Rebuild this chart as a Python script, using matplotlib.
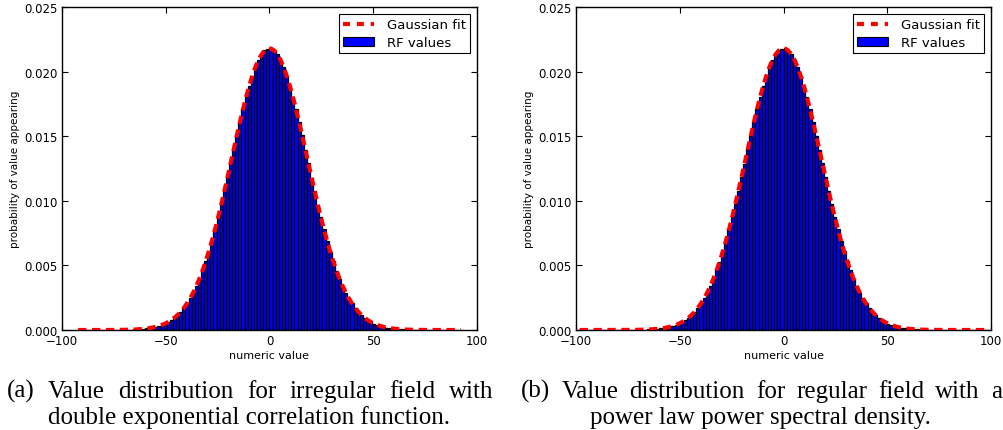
import numpy as np
import matplotlib
matplotlib.use("Agg")
import matplotlib.pyplot as plt
from matplotlib.patches import Patch
from matplotlib.lines import Line2D

# ---------------- data ----------------
# panel (a): bins of width 1.5 from -93 to 93
bins_a = (-93.0, 93.0, 1.5)
heights_a = [
    0.0, 0.0, 0.0, 0.0, 0.0, 0.0, 0.0, 0.0, 0.0, 0.0, 0.0, 0.0, 0.0, 0.0, 0.0,
    0.00001, 0.00002, 0.00003, 0.00004, 0.00005, 0.00007, 0.00009, 0.00012, 0.00015,
    0.00019, 0.00025, 0.00032, 0.00040, 0.00050, 0.00063, 0.00078, 0.00096, 0.00117,
    0.00142, 0.00172, 0.00206, 0.00245, 0.00290, 0.00341, 0.00398, 0.00461, 0.00531,
    0.00608, 0.00690, 0.00779, 0.00873, 0.00972, 0.01075, 0.01181, 0.01289, 0.01397,
    0.01505, 0.01610, 0.01711, 0.01805, 0.01891, 0.01969, 0.02037, 0.02092, 0.02135,
    0.02164, 0.02175,
    0.02180, 0.02162, 0.02136, 0.02090, 0.02038, 0.01967, 0.01892, 0.01803, 0.01712,
    0.01609, 0.01506, 0.01396, 0.01290, 0.01180, 0.01076, 0.00971, 0.00874, 0.00778,
    0.00691, 0.00607, 0.00532, 0.00460, 0.00398, 0.00341, 0.00290, 0.00245, 0.00206,
    0.00172, 0.00142, 0.00117, 0.00096, 0.00078, 0.00063, 0.00050, 0.00040, 0.00032,
    0.00025, 0.00019, 0.00015, 0.00012, 0.00009, 0.00007, 0.00005, 0.00004, 0.00003,
    0.00002, 0.00001,
    0.0, 0.0, 0.0, 0.0, 0.0, 0.0, 0.0, 0.0, 0.0, 0.0, 0.0, 0.0, 0.0, 0.0, 0.0,
]
fit_a = (0.0, 18.3)   # Gaussian fit: mean, sigma

# panel (b): bins of width 1.5 from -99 to 99
bins_b = (-99.0, 99.0, 1.5)
heights_b = [
    0.0, 0.0, 0.0, 0.0, 0.0, 0.0, 0.0, 0.0, 0.0, 0.0, 0.0, 0.0, 0.0, 0.0, 0.0,
    0.0, 0.0, 0.0, 0.0,
    0.00001, 0.00002, 0.00003, 0.00004, 0.00005, 0.00007, 0.00009, 0.00012, 0.00015,
    0.00019, 0.00025, 0.00032, 0.00040, 0.00051, 0.00063, 0.00078, 0.00095, 0.00117,
    0.00143, 0.00172, 0.00207, 0.00245, 0.00291, 0.00341, 0.00397, 0.00461, 0.00530,
    0.00608, 0.00689, 0.00779, 0.00872, 0.00973, 0.01074, 0.01182, 0.01288, 0.01398,
    0.01504, 0.01611, 0.01710, 0.01806, 0.01890, 0.01970, 0.02036, 0.02093, 0.02134,
    0.02165, 0.02177,
    0.02179, 0.02163, 0.02135, 0.02091, 0.02037, 0.01968, 0.01891, 0.01804, 0.01711,
    0.01610, 0.01505, 0.01397, 0.01289, 0.01181, 0.01075, 0.00972, 0.00873, 0.00779,
    0.00690, 0.00608, 0.00531, 0.00461, 0.00398, 0.00340, 0.00290, 0.00244, 0.00206,
    0.00171, 0.00142, 0.00118, 0.00096, 0.00078, 0.00062, 0.00050, 0.00040, 0.00031,
    0.00025, 0.00019, 0.00015, 0.00012, 0.00009, 0.00007, 0.00005, 0.00004, 0.00003,
    0.00002, 0.00001,
    0.0, 0.0, 0.0, 0.0, 0.0, 0.0, 0.0, 0.0, 0.0, 0.0, 0.0, 0.0, 0.0, 0.0, 0.0,
    0.0, 0.0, 0.0, 0.0,
]
fit_b = (0.0, 18.3)

x_ticks = [-100, -50, 0, 50, 100]
y_ticks = [0.000, 0.005, 0.010, 0.015, 0.020, 0.025]
x_label = "numeric value"
y_label = "probability of value appearing"
legend_labels = ["Gaussian fit", "RF values"]

caption_a_line1 = ["(a)", "Value", "distribution", "for", "irregular", "field", "with"]
caption_a_line2 = "double exponential correlation function."
caption_b_line1 = ["(b)", "Value", "distribution", "for", "regular", "field", "with", "a"]
caption_b_line2 = "power law power spectral density."

# ---------------- figure ----------------
W, H = 1004, 431
plt.rcParams['lines.scale_dashes'] = False
fig = plt.figure(figsize=(W / 100, H / 100), dpi=100)


def px_axes(l, t, r, b):
    return fig.add_axes([l / W, 1 - b / H, (r - l) / W, (b - t) / H])


def draw_panel(ax, bins, heights, fit):
    lo, hi, w = bins
    edges = np.arange(lo, hi + w / 2, w)
    centers = (edges[:-1] + edges[1:]) / 2
    h = np.asarray(heights)
    ax.bar(centers, h, width=w, color="#0000ff", edgecolor="black",
           linewidth=0.9, label=legend_labels[1], zorder=2)
    mu, sig = fit
    g = np.exp(-(centers - mu) ** 2 / (2 * sig ** 2)) / (sig * np.sqrt(2 * np.pi))
    ax.plot(centers, g, color="red", lw=3, dashes=(6, 4),
            dash_capstyle="butt", label=legend_labels[0], zorder=3)
    ax.set_xlim(-100, 100)
    ax.set_ylim(0, 0.025)
    ax.set_xticks(x_ticks)
    ax.set_yticks(y_ticks)
    ax.set_yticklabels([f"{v:.3f}" for v in y_ticks])
    ax.tick_params(direction="in", top=True, right=True, length=4, width=0.8,
                   labelsize=8.5, pad=3)
    for s in ax.spines.values():
        s.set_linewidth(1.0)
        s.set_color("black")
    ax.set_xlabel(x_label, fontsize=8, labelpad=2)
    ax.set_ylabel(y_label, fontsize=7.5, labelpad=3)
    handles = [Line2D([], [], color="red", lw=3, dashes=(5, 5)),
               Patch(facecolor="#0000ff", edgecolor="black", linewidth=0.8)]
    leg = ax.legend(handles, legend_labels, loc="upper right", fontsize=9.5,
                    fancybox=False, framealpha=1, edgecolor="black",
                    handlelength=2.3, borderaxespad=0.5, labelspacing=0.35,
                    handletextpad=1.0, borderpad=0.35)
    leg.get_frame().set_linewidth(0.8)


ax1 = px_axes(62, 8, 477, 331)
ax2 = px_axes(576, 8, 991, 331)
draw_panel(ax1, bins_a, heights_a, fit_a)
draw_panel(ax2, bins_b, heights_b, fit_b)

# captions
serif = "Liberation Serif"
cfs = 18


def ftext(x, y, s, ha="left"):
    return fig.text(x / W, 1 - y / H, s, ha=ha, va="baseline", fontsize=cfs,
                    family=serif, color="black")


renderer = fig.canvas.get_renderer()


def justified(words, x0, x1, y):
    texts = [ftext(x0, y, w) for w in words]
    widths = [t.get_window_extent(renderer).width for t in texts]
    gap = (x1 - x0 - sum(widths)) / (len(words) - 1)
    x = x0
    for t, wd in zip(texts, widths):
        t.set_x(x / W)
        x += wd + gap


justified(caption_a_line1, 7, 493, 398)
ftext(48, 424, caption_a_line2)

justified(caption_b_line1, 521, 1002, 398)
ftext(760, 424, caption_b_line2, ha="center")

fig.savefig("out.png", dpi=100)
